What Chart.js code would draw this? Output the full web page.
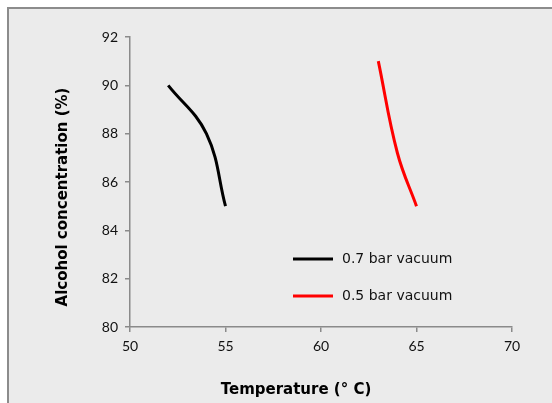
<!DOCTYPE html>
<html>
<head>
<script src="https://cdn.jsdelivr.net/npm/chart.js"></script>
<style>
  body { margin: 0; background: #fff; }
  #box {
    position: absolute; left: 7px; top: 7px;
    width: 545px; height: 396px;
    background: #ebebeb;
    border-left: 2px solid #8c8c8c;
    border-top: 2px solid #8c8c8c;
    box-sizing: border-box;
  }
  #myChart { position: absolute; left: 0; top: 0; }
</style>
</head>
<body>
<div id="box"></div>
<canvas id="myChart" width="552" height="403"></canvas>
<script>
// temperature (deg C) vs alcohol concentration (%)
var temp07 = [52, 54, 55];
var alc07 = [90, 88, 85];
var temp05 = [63, 64, 65];
var alc05 = [91, 87.2, 85];
var seriesNames = ['0.7 bar vacuum', '0.5 bar vacuum'];
var xTicks = [50, 55, 60, 65, 70];
var yTicks = [80, 82, 84, 86, 88, 90, 92];

function toPoints(xs, ys) {
  return xs.map(function (x, i) { return { x: x, y: ys[i] }; });
}

var axisColor = '#8a8a8a';
var tickFont = { family: 'Lato', size: 14 };

// legend drawn inside the plot area, plus axis titles
var extras = {
  id: 'extras',
  afterDraw: function (chart) {
    var ctx = chart.ctx;
    ctx.save();
    chart.data.datasets.forEach(function (ds, i) {
      var y = 259 + i * 37;
      ctx.strokeStyle = ds.borderColor;
      ctx.lineWidth = 3;
      ctx.beginPath();
      ctx.moveTo(293, y);
      ctx.lineTo(333, y);
      ctx.stroke();
      ctx.fillStyle = '#111';
      ctx.font = '14px "DejaVu Sans"';
      ctx.textBaseline = 'middle';
      ctx.textAlign = 'left';
      ctx.fillText(ds.label, 342, y);
    });
    ctx.font = 'bold 15px "DejaVu Sans"';
    ctx.fillStyle = '#000';
    ctx.textAlign = 'center';
    ctx.textBaseline = 'middle';
    ctx.fillText('Temperature (\u00b0 C)', 296, 390);
    ctx.translate(63, 197);
    ctx.rotate(-Math.PI / 2);
    ctx.fillText('Alcohol concentration (%)', 0, 0);
    ctx.restore();
  }
};

new Chart(document.getElementById('myChart'), {
  type: 'scatter',
  data: {
    datasets: [{
      label: seriesNames[0],
      data: toPoints(temp07, alc07),
      borderColor: '#000000',
      backgroundColor: '#000000',
      borderWidth: 3,
      showLine: true,
      tension: 0.4,
      pointRadius: 0
    }, {
      label: seriesNames[1],
      data: toPoints(temp05, alc05),
      borderColor: '#ff0000',
      backgroundColor: '#ff0000',
      borderWidth: 3,
      showLine: true,
      tension: 0.4,
      pointRadius: 0
    }]
  },
  options: {
    responsive: false,
    animation: false,
    devicePixelRatio: 1,
    layout: { padding: { top: 37, right: 40, left: 0, bottom: 0 } },
    plugins: { legend: { display: false }, tooltip: { enabled: false } },
    scales: {
      x: {
        type: 'linear', min: 50, max: 70,
        afterBuildTicks: function (s) { s.ticks = xTicks.map(function (v) { return { value: v }; }); },
        afterFit: function (s) { s.height = 76; },
        grid: { drawOnChartArea: false, drawTicks: true, tickLength: 5, color: axisColor, lineWidth: 1.5 },
        border: { color: axisColor, width: 1.5 },
        ticks: { font: tickFont, color: '#111', padding: 6, maxRotation: 0 }
      },
      y: {
        type: 'linear', min: 80, max: 92,
        afterBuildTicks: function (s) { s.ticks = yTicks.map(function (v) { return { value: v }; }); },
        afterFit: function (s) { s.width = 130; },
        grid: { drawOnChartArea: false, drawTicks: true, tickLength: 5, color: axisColor, lineWidth: 1.5 },
        border: { color: axisColor, width: 1.5 },
        ticks: { font: tickFont, color: '#111', padding: 7 }
      }
    }
  },
  plugins: [extras]
});
</script>
</body>
</html>
